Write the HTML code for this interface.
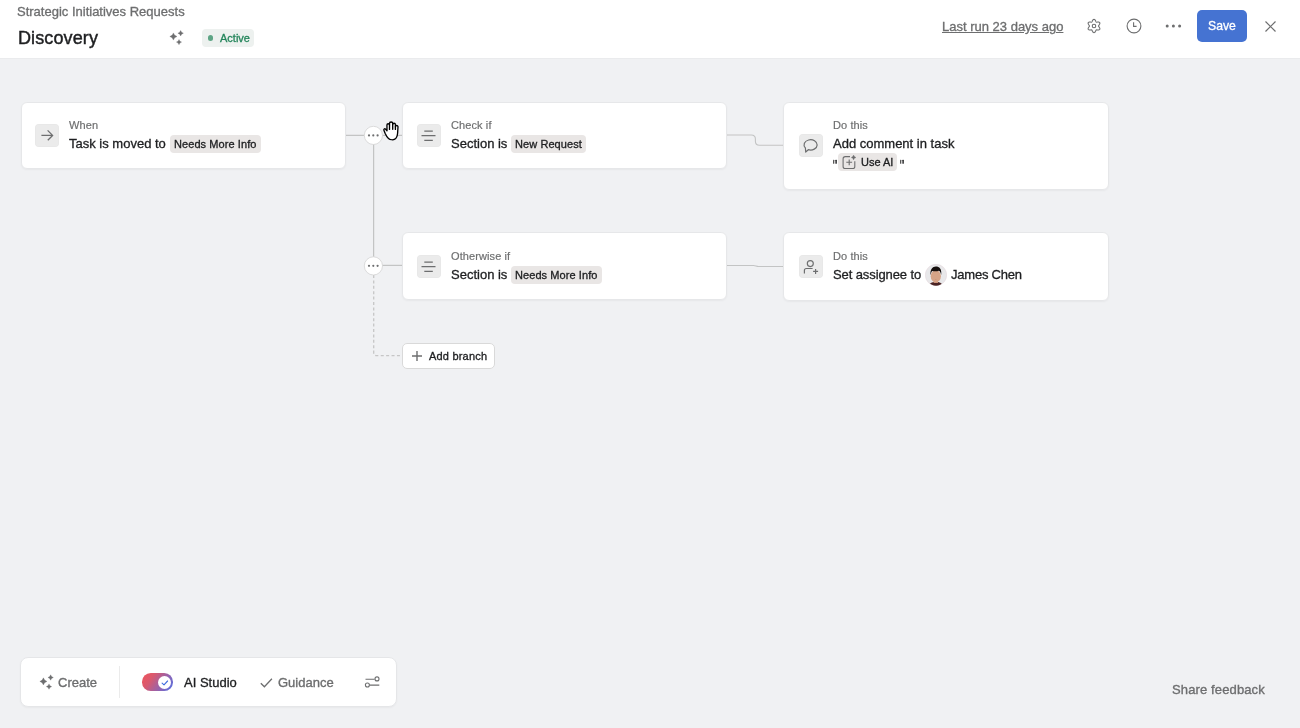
<!DOCTYPE html>
<html><head><meta charset="utf-8">
<style>
*{margin:0;padding:0;box-sizing:border-box}
html,body{width:1300px;height:728px;overflow:hidden;background:#f0f1f3;font-family:"Liberation Sans",sans-serif;color:#1e1f21}
.a{position:absolute}
.t{position:absolute;white-space:nowrap;line-height:1;-webkit-text-stroke:0.32px currentColor;will-change:transform}
.chip{-webkit-text-stroke:0.32px currentColor;will-change:transform}
.md{-webkit-text-stroke:0.45px currentColor}
#hdr{position:absolute;left:0;top:0;width:1300px;height:59px;background:#fff;border-bottom:1px solid #eaebed}
.card{position:absolute;background:#fff;border:1px solid #e6e7e9;border-radius:6px;box-shadow:0 1px 2px rgba(0,0,0,0.045)}
.ib{position:absolute;width:23.6px;height:23px;border-radius:4px;background:#ebebeb;box-shadow:inset 0 0 0 0.6px rgba(0,0,0,0.025)}
.lbl{font-size:11px;color:#6d6e6f;letter-spacing:0.1px;-webkit-text-stroke:0.18px #6d6e6f}
.main{font-size:13px;color:#1e1f21}
.chip{position:absolute;height:17.7px;border-radius:4px;background:#e9e6e5;font-size:11px;color:#1e1f21;line-height:19.6px;padding:0 4px;letter-spacing:0.08px;white-space:nowrap}
</style></head><body>
<div id="hdr">
  <div class="t" style="left:17px;top:5.2px;font-size:13px;color:#6d6e6f">Strategic Initiatives Requests</div>
  <div class="t md" style="left:18px;top:28.8px;font-size:18px;letter-spacing:0.12px;color:#1e1f21">Discovery</div>
  <svg class="a" style="left:166px;top:27px" width="22" height="22" viewBox="0 0 22 22"><path fill="#6d6e6f" stroke="#6d6e6f" stroke-width="0.3" stroke-linejoin="round" d="M7.40 5.90 Q8.12 8.78 11.00 9.50 Q8.12 10.22 7.40 13.10 Q6.68 10.22 3.80 9.50 Q6.68 8.78 7.40 5.90Z M14.65 3.45 Q15.20 5.65 17.40 6.20 Q15.20 6.75 14.65 8.95 Q14.10 6.75 11.90 6.20 Q14.10 5.65 14.65 3.45Z M13.00 12.50 Q13.52 14.58 15.60 15.10 Q13.52 15.62 13.00 17.70 Q12.48 15.62 10.40 15.10 Q12.48 14.58 13.00 12.50Z"/></svg>
  <div class="a" style="left:202px;top:29px;width:52px;height:18px;border-radius:4px;background:#edf1ef"></div>
  <div class="a" style="left:207.5px;top:35px;width:5.5px;height:5.5px;border-radius:50%;background:#5ea585"></div>
  <div class="t" style="left:220.2px;top:32.8px;font-size:11px;color:#23855a;-webkit-text-stroke:0.3px #23855a">Active</div>

  <div class="t" style="left:942px;top:20px;font-size:13px;color:#6d6e6f;text-decoration:underline">Last run 23 days ago</div>
  <svg class="a" style="left:1086px;top:18px" width="16" height="16" viewBox="0 0 16 16"><path fill="none" stroke="#6d6e6f" stroke-width="1.05" stroke-linejoin="round" d="M8.00 1.35 L8.43 1.44 L8.83 1.71 L9.17 2.11 L9.45 2.59 L9.67 3.08 L9.86 3.51 L10.05 3.85 L10.27 4.06 L10.57 4.15 L10.96 4.15 L11.43 4.09 L11.96 4.04 L12.51 4.04 L13.03 4.14 L13.46 4.35 L13.76 4.67 L13.89 5.09 L13.86 5.57 L13.68 6.07 L13.41 6.55 L13.10 6.99 L12.82 7.37 L12.62 7.70 L12.55 8.00 L12.62 8.30 L12.82 8.63 L13.10 9.01 L13.41 9.45 L13.68 9.93 L13.86 10.43 L13.89 10.91 L13.76 11.32 L13.46 11.65 L13.03 11.86 L12.51 11.96 L11.96 11.96 L11.43 11.91 L10.96 11.85 L10.57 11.85 L10.27 11.94 L10.05 12.15 L9.86 12.49 L9.67 12.92 L9.45 13.41 L9.17 13.89 L8.83 14.29 L8.43 14.56 L8.00 14.65 L7.57 14.56 L7.17 14.29 L6.83 13.89 L6.55 13.41 L6.33 12.92 L6.14 12.49 L5.95 12.15 L5.73 11.94 L5.43 11.85 L5.04 11.85 L4.57 11.91 L4.04 11.96 L3.49 11.96 L2.97 11.86 L2.54 11.65 L2.24 11.33 L2.11 10.91 L2.14 10.43 L2.32 9.93 L2.59 9.45 L2.90 9.01 L3.18 8.63 L3.38 8.30 L3.45 8.00 L3.38 7.70 L3.18 7.37 L2.90 6.99 L2.59 6.55 L2.32 6.07 L2.14 5.57 L2.11 5.09 L2.24 4.67 L2.54 4.35 L2.97 4.14 L3.49 4.04 L4.04 4.04 L4.57 4.09 L5.04 4.15 L5.43 4.15 L5.72 4.06 L5.95 3.85 L6.14 3.51 L6.33 3.08 L6.55 2.59 L6.83 2.11 L7.17 1.71 L7.57 1.44Z"/><circle cx="8" cy="8" r="1.75" fill="none" stroke="#6d6e6f" stroke-width="1.1"/></svg>
  <svg class="a" style="left:1126px;top:18.35px" width="16" height="16" viewBox="0 0 16 16"><circle cx="8" cy="8" r="6.9" fill="none" stroke="#6d6e6f" stroke-width="1.1"/><path fill="none" stroke="#6d6e6f" stroke-width="1.1" d="M7.6 4.3v4.1h3"/></svg>
  <svg class="a" style="left:1164px;top:22px" width="20" height="8" viewBox="0 0 20 8"><circle cx="3.2" cy="4" r="1.5" fill="#6d6e6f"/><circle cx="9.4" cy="4" r="1.5" fill="#6d6e6f"/><circle cx="15.6" cy="4" r="1.5" fill="#6d6e6f"/></svg>
  <div class="a" style="left:1197px;top:10px;width:50.3px;height:32.3px;border-radius:5px;background:#4573d2"></div>
  <div class="t md" style="left:1208px;top:20px;font-size:12.2px;color:#fff;-webkit-text-stroke:0.3px #fff">Save</div>
  <svg class="a" style="left:1263px;top:18.6px" width="15" height="15" viewBox="0 0 15 15"><path stroke="#6d6e6f" stroke-width="1.2" d="M2.5 2.5l10 10M12.5 2.5l-10 10"/></svg>
</div>

<!-- connectors -->
<svg class="a" style="left:0;top:0" width="1300" height="728">
  <g fill="none" stroke="#c3c4c4" stroke-width="1.25">
    <path d="M346 135.4H402"/>
    <path d="M373.6 135V266"/>
    <path d="M373.6 265.4H402"/>
    <path stroke-width="1.1" d="M727 135H751.3 C753.9 135 755.4 136.5 755.4 139.1 V141.3 C755.4 143.9 756.8 145.3 759.4 145.3 H783"/>
    <path stroke-width="1.1" d="M727 265.5H753.5 C755.5 265.5 756.5 266.5 758.5 266.5 H783"/>
  </g>
  <path fill="none" stroke="#c6c6c6" stroke-width="1.3" stroke-dasharray="3 2.4" d="M373.7 275V352.5 Q373.7 355.7 376.9 355.7H402"/>
  <circle cx="373.4" cy="135.4" r="9.1" fill="#fff" stroke="#d6d6d6" stroke-width="0.85"/>
  <circle cx="373.4" cy="265.9" r="9.1" fill="#fff" stroke="#d6d6d6" stroke-width="0.85"/>
  <g fill="#6d6e6f"><circle cx="369" cy="135.4" r="1.1"/><circle cx="373.3" cy="135.4" r="1.1"/><circle cx="377.6" cy="135.4" r="1.1"/>
  <circle cx="369" cy="265.8" r="1.1"/><circle cx="373.3" cy="265.8" r="1.1"/><circle cx="377.6" cy="265.8" r="1.1"/></g>
</svg>

<!-- card 1 -->
<div class="card" style="left:21px;top:102px;width:325px;height:67px"></div>
<div class="ib" style="left:35px;top:124px"></div>
<svg class="a" style="left:35px;top:124px" width="23" height="23" viewBox="0 0 23 23"><path fill="none" stroke="#6d6e6f" stroke-width="1.3" d="M6.4 11.4H17.4M12.6 6.4L17.6 11.4L12.8 16.3"/></svg>
<div class="t lbl" style="left:69.3px;top:120px">When</div>
<div class="t main" style="left:69.3px;top:137px">Task is moved to</div>
<div class="chip" style="left:169.6px;top:135.3px">Needs More Info</div>

<!-- card 2 -->
<div class="card" style="left:402px;top:102px;width:325px;height:67px"></div>
<div class="ib" style="left:417px;top:124px"></div>
<svg class="a" style="left:417px;top:124px" width="23" height="23" viewBox="0 0 23 23"><path fill="none" stroke="#6d6e6f" stroke-width="1.3" d="M7.3 7.2h8.5M4.5 11.6h14M7.3 16.3h8.5"/></svg>
<div class="t lbl" style="left:451.2px;top:120px">Check if</div>
<div class="t main" style="left:451.2px;top:137px">Section is</div>
<div class="chip" style="left:511px;top:135.3px">New Request</div>

<!-- card 3 -->
<div class="card" style="left:783px;top:102px;width:326px;height:88px"></div>
<div class="ib" style="left:799px;top:134px"></div>
<svg class="a" style="left:799px;top:134px" width="23" height="23" viewBox="0 0 23 23"><path fill="none" stroke="#6d6e6f" stroke-width="1.2" stroke-linejoin="round" d="M6.7 18.0 L6.4 14.0 A6.55 5.15 0 1 1 9.3 15.7 Z"/></svg>
<div class="t lbl" style="left:832.8px;top:120px">Do this</div>
<div class="t main" style="left:833.4px;top:137px">Add comment in task</div>
<svg class="a" style="left:832px;top:159px" width="6" height="6" viewBox="0 0 6 6"><rect x="1" y="0.8" width="1.3" height="4" rx="0.5" fill="#555"/><rect x="3.4" y="0.8" width="1.4" height="4" rx="0.5" fill="#1e1f21"/></svg>
<div class="chip" style="left:838px;top:153px;width:58.5px;height:17.5px"></div>
<svg class="a" style="left:842px;top:151px" width="16" height="20" viewBox="0 0 16 20"><path fill="none" stroke="#6d6e6f" stroke-width="1.1" d="M8 5.6H3.3C2 5.6 1.1 6.5 1.1 7.8v7.6c0 1.3.9 2.1 2.2 2.1h7.4c1.3 0 2.1-.8 2.1-2.1V10.3M7.2 8.4v5.8M4.3 11.3h5.8"/><path fill="#6d6e6f" stroke="#6d6e6f" stroke-width="0.3" stroke-linejoin="round" d="M11.60 4.10 Q12.08 6.02 14.00 6.50 Q12.08 6.98 11.60 8.90 Q11.12 6.98 9.20 6.50 Q11.12 6.02 11.60 4.10Z"/></svg>
<div class="t" style="left:861px;top:157px;font-size:11px">Use AI</div>
<svg class="a" style="left:899px;top:159px" width="6" height="6" viewBox="0 0 6 6"><rect x="1" y="0.8" width="1.3" height="4" rx="0.5" fill="#555"/><rect x="3.4" y="0.8" width="1.4" height="4" rx="0.5" fill="#1e1f21"/></svg>

<!-- card 4 -->
<div class="card" style="left:402px;top:232px;width:325px;height:68px"></div>
<div class="ib" style="left:417px;top:254.5px"></div>
<svg class="a" style="left:417px;top:254.5px" width="23" height="23" viewBox="0 0 23 23"><path fill="none" stroke="#6d6e6f" stroke-width="1.3" d="M7.3 7.2h8.5M4.5 11.6h14M7.3 16.3h8.5"/></svg>
<div class="t lbl" style="left:451.2px;top:250.5px">Otherwise if</div>
<div class="t main" style="left:451.2px;top:267.5px">Section is</div>
<div class="chip" style="left:511px;top:265.8px">Needs More Info</div>

<!-- card 5 -->
<div class="card" style="left:783px;top:232px;width:326px;height:69px"></div>
<div class="ib" style="left:799px;top:255px"></div>
<svg class="a" style="left:799px;top:255px" width="23" height="23" viewBox="0 0 23 23"><circle cx="11.3" cy="8.6" r="3.0" fill="none" stroke="#6d6e6f" stroke-width="1.15"/><path fill="none" stroke="#6d6e6f" stroke-width="1.2" d="M5.4 18.5V15.5C5.4 14.3 6.2 13.5 7.4 13.5H13.6M14.1 16.4h5M16.6 13.9v5"/></svg>
<div class="t lbl" style="left:832.8px;top:250.5px">Do this</div>
<div class="t main" style="left:833.2px;top:268px;letter-spacing:-0.1px">Set assignee to</div>
<svg class="a" style="left:925px;top:264px" width="22" height="22" viewBox="0 0 22 22"><defs><clipPath id="av"><circle cx="11" cy="11" r="10.7"/></clipPath></defs><circle cx="11" cy="11" r="10.7" fill="#e8e8ea" stroke="#e6d9dd" stroke-width="0.6"/><g clip-path="url(#av)"><path fill="#4a2424" d="M3.5 22 C4.5 19 7.5 17.8 10.8 17.8 C14.1 17.8 17 19 18.2 22Z"/><rect x="8.6" y="15" width="4.4" height="4" fill="#c99379"/><ellipse cx="10.8" cy="12.2" rx="5.1" ry="6.1" fill="#d6a487"/><path fill="#16100e" d="M5.6 11.5 C4.8 5.5 7.6 2.6 10.9 2.6 C14.3 2.6 17 5 16.2 11 C15.8 8.6 15.1 7.2 13.9 6.7 C12 7.3 9.5 7.4 7.2 6.9 C6.2 7.8 5.8 9.5 5.6 11.5Z"/><path fill="#a86850" d="M8.9 15.2 C10 15.8 11.6 15.8 12.7 15.2 C11.8 15.6 9.8 15.6 8.9 15.2Z"/></g></svg>
<div class="t main" style="left:951px;top:268px;letter-spacing:-0.22px">James Chen</div>

<!-- add branch -->
<div class="a" style="left:402px;top:343px;width:92.5px;height:25.6px;border:1px solid #d9d9d9;border-radius:5px;background:#fff"></div>
<svg class="a" style="left:410px;top:349px" width="14" height="14" viewBox="0 0 14 14"><path stroke="#6d6e6f" stroke-width="1.4" d="M7 2v10M2 7h10"/></svg>
<div class="t" style="left:428.6px;top:351px;font-size:11px;letter-spacing:0.2px;color:#1e1f21">Add branch</div>

<!-- hand cursor -->
<svg class="a" style="left:380px;top:118px" width="22" height="26" viewBox="0 0 22 26"><g fill="#fff" stroke="#000" stroke-width="1.35" stroke-linejoin="round" stroke-linecap="round"><path d="M8.5 20.4 C7.1 19.2 6 17.2 5.2 15.4 L3.9 12.2 C3.5 11.2 4.6 10.3 5.4 11 L7.0 12.8 L6.95 7.0 A1.27 1.27 0 0 1 9.5 7.0 V5.6 A1.6 1.6 0 0 1 12.7 5.6 V6.6 A1.35 1.35 0 0 1 15.4 6.6 V8.8 A1.3 1.3 0 0 1 18.0 8.8 L17.6 15.2 C17.3 18 16.5 20.2 14.8 21.2 C13.2 22.1 10.2 21.9 8.5 20.4 Z"/><path fill="none" d="M9.5 7.0V11.4M12.7 6.6V11.2M15.4 8.8V11.4"/></g></svg>

<!-- bottom toolbar -->
<div class="a" style="left:20px;top:657px;width:377px;height:50px;background:#fff;border:1px solid #e5e6e8;border-radius:8px;box-shadow:0 1px 2px rgba(0,0,0,0.04)"></div>
<svg class="a" style="left:36px;top:671px" width="22" height="22" viewBox="0 0 22 22"><path fill="#6d6e6f" stroke="#6d6e6f" stroke-width="0.3" stroke-linejoin="round" d="M7.40 6.85 Q8.11 9.69 10.95 10.40 Q8.11 11.11 7.40 13.95 Q6.69 11.11 3.85 10.40 Q6.69 9.69 7.40 6.85Z M14.65 3.80 Q15.19 5.96 17.35 6.50 Q15.19 7.04 14.65 9.20 Q14.11 7.04 11.95 6.50 Q14.11 5.96 14.65 3.80Z M13.00 12.90 Q13.54 15.06 15.70 15.60 Q13.54 16.14 13.00 18.30 Q12.46 16.14 10.30 15.60 Q12.46 15.06 13.00 12.90Z"/></svg>
<div class="t" style="left:58px;top:676px;font-size:13px;color:#6d6e6f;-webkit-text-stroke:0.35px #6d6e6f">Create</div>
<div class="a" style="left:119px;top:666px;width:1px;height:32px;background:#ebebeb"></div>
<div class="a" style="left:141.6px;top:673.2px;width:31.3px;height:17.5px;border-radius:8.75px;background:linear-gradient(125deg,#f2545a 0%,#d9596e 30%,#9563ae 65%,#4c72ea 100%)"></div>
<div class="a" style="left:158.05px;top:675.6px;width:13.2px;height:13.2px;border-radius:50%;background:#fff"></div>
<svg class="a" style="left:158px;top:675.5px" width="14" height="14" viewBox="0 0 14 14"><path fill="none" stroke="#3f6ddf" stroke-width="1.1" stroke-linecap="round" stroke-linejoin="round" d="M4.1 7.2l1.9 1.6 3.6-3.8"/></svg>
<div class="t" style="left:184px;top:676px;font-size:13px;color:#1e1f21;-webkit-text-stroke:0.32px #1e1f21">AI Studio</div>
<svg class="a" style="left:259px;top:677px" width="15" height="12" viewBox="0 0 15 12"><path fill="none" stroke="#6d6e6f" stroke-width="1.3" d="M1.8 6.2l3.6 3.6 7.5-8"/></svg>
<div class="t" style="left:278px;top:676px;font-size:13px;color:#6d6e6f;-webkit-text-stroke:0.35px #6d6e6f">Guidance</div>
<svg class="a" style="left:363px;top:674px" width="18" height="16" viewBox="0 0 18 16"><g fill="none" stroke="#6d6e6f" stroke-width="1.1"><path d="M2.5 5.2H11.6M6.8 11.1H16.3"/><circle cx="14" cy="4.9" r="2.0"/><circle cx="4.4" cy="11.0" r="2.0"/></g></svg>

<div class="t" style="left:1172px;top:683px;font-size:13px;letter-spacing:0.13px;color:#6d6e6f;-webkit-text-stroke:0.35px #6d6e6f">Share feedback</div>
</body></html>
